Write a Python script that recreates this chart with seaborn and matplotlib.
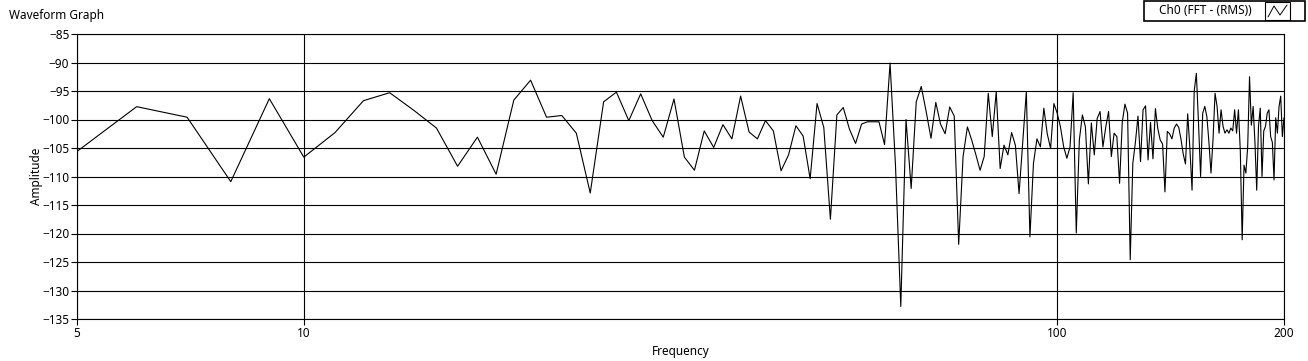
import numpy as np
import pandas as pd
import matplotlib
matplotlib.use("Agg")
import matplotlib.pyplot as plt
from matplotlib.ticker import NullLocator, FixedLocator, FixedFormatter
from matplotlib.patches import Rectangle
from matplotlib.lines import Line2D
import seaborn as sns

# ---------------- data ----------------
freq = list(range(5, 201))
amplitude = [
    -105.6, -97.75, -99.6, -110.9, -96.35, -106.6, -102.3, -96.7, -95.3, -98.4,   # 5-14
    -101.5, -108.2, -103.1, -109.6, -96.6, -93.1, -99.6, -99.3, -102.4, -112.9,   # 15-24
    -96.9, -95.2, -100.2, -95.5, -100.2, -103.1, -96.4, -106.6, -108.9, -102.0,   # 25-34
    -104.9, -100.9, -103.4, -95.9, -102.2, -103.4, -100.2, -102.0, -109.0, -106.2, # 35-44
    -101.1, -102.9, -110.4, -97.2, -101.4, -117.5, -99.2, -97.9, -101.7, -104.2,  # 45-54
    -100.8, -100.4, -100.4, -100.4, -104.4, -90.1, -108.0, -132.8, -100.0, -112.1, # 55-64
    -96.9, -94.2, -98.6, -103.3, -97.0, -100.8, -102.5, -97.8, -99.4, -121.9,     # 65-74
    -106.5, -101.3, -103.6, -106.2, -108.9, -106.5, -95.4, -103.0, -95.1, -108.6, # 75-84
    -104.5, -106.2, -102.3, -104.5, -113.0, -104.0, -95.1, -120.6, -107.7, -103.4, # 85-94
    -104.8, -98.0, -102.5, -105.1, -97.2, -98.9, -101.3, -104.8, -106.8, -104.8,  # 95-104
    -95.3, -119.9, -103.6, -99.2, -101.3, -111.3, -100.6, -106.2, -99.8, -98.6,   # 105-114
    -104.8, -101.3, -98.6, -106.5, -102.4, -103.0, -111.2, -100.5, -97.3, -98.9,  # 115-124
    -124.6, -107.7, -104.0, -99.4, -107.4, -98.3, -97.6, -107.1, -100.5, -106.9,  # 125-134
    -98.1, -101.6, -103.6, -104.3, -112.7, -102.1, -102.5, -103.4, -101.5, -100.8, # 135-144
    -101.4, -103.5, -106.1, -107.8, -99.0, -105.0, -112.4, -95.0, -91.9, -100.5,  # 145-154
    -110.0, -98.9, -97.7, -99.5, -104.0, -109.4, -103.5, -95.4, -97.7, -102.4,    # 155-164
    -98.3, -101.2, -102.4, -101.8, -102.4, -101.5, -102.0, -98.3, -102.4, -98.3,  # 165-174
    -105.5, -121.1, -108.0, -109.4, -104.7, -92.5, -101.0, -97.7, -104.0, -112.4, # 175-184
    -101.2, -98.0, -110.0, -102.0, -101.2, -98.9, -98.3, -103.0, -104.0, -110.6,  # 185-194
    -99.7, -102.4, -97.7, -95.9, -103.0, -99.7,                                   # 195-200
]
series_name = "Ch0 (FFT - (RMS))"
x_ticks = [5, 10, 100, 200]
x_tick_labels = ["5", "10", "100", "200"]
y_ticks = list(range(-135, -84, 5))

# ---------------- style ----------------
sns.set_theme(style="white")
plt.rcParams["font.family"] = ["Noto Sans", "DejaVu Sans"]
plt.rcParams["font.size"] = 8.5

W, H = 1308, 361
fig = plt.figure(figsize=(W / 100, H / 100), dpi=100)
fig.patch.set_facecolor("white")

L, R, T, B = 77, 1284, 34, 319
ax = fig.add_axes([L / W, 1 - B / H, (R - L) / W, (B - T) / H])
ax.set_facecolor("white")

df = pd.DataFrame({"Frequency": freq, "Amplitude": amplitude})
sns.lineplot(data=df, x="Frequency", y="Amplitude", ax=ax, color="black",
             linewidth=0.8, estimator=None, legend=False, zorder=3)

ax.set_xscale("log")
ax.set_xlim(5, 200)
ax.set_ylim(-135, -85)
ax.xaxis.set_major_locator(FixedLocator(x_ticks))
ax.xaxis.set_major_formatter(FixedFormatter(x_tick_labels))
ax.xaxis.set_minor_locator(NullLocator())
ax.yaxis.set_major_locator(FixedLocator(y_ticks))
ax.yaxis.set_minor_locator(NullLocator())

ax.set_axisbelow(True)
ax.grid(True, which="major", color="black", linewidth=0.8)
for s in ax.spines.values():
    s.set_color("black")
    s.set_linewidth(0.8)

ax.tick_params(axis="both", which="major", direction="out", length=4, width=0.8,
               color="black", labelcolor="black", labelsize=8.5, pad=1.5,
               left=True, bottom=True)

ax.set_xlabel("Frequency", fontsize=8.5, color="black", labelpad=4)
ax.set_ylabel("Amplitude", fontsize=8.5, color="black")
ax.yaxis.set_label_coords((43 - L) / (R - L), 0.5)

# title
fig.text(9 / W, 1 - 15 / H, "Waveform Graph", fontsize=8.5, color="black",
         ha="left", va="center")

# legend box (LabVIEW plot legend style)
def fx(px):
    return px / W

def fy(py):
    return 1 - py / H

fig.patches.append(Rectangle((fx(1144), fy(21)), fx(1305) - fx(1144), fy(1) - fy(21),
                             transform=fig.transFigure, fill=False, edgecolor="black",
                             linewidth=1.2))
fig.text(fx(1205), fy(11), series_name, fontsize=8.5, color="black",
         ha="center", va="center")
fig.patches.append(Rectangle((fx(1265), fy(20)), fx(1290) - fx(1265), fy(2) - fy(20),
                             transform=fig.transFigure, fill=False, edgecolor="black",
                             linewidth=0.8))
icon_x = [1268, 1274, 1280, 1287]
icon_y = [17, 6, 15, 5]
fig.lines.append(Line2D([fx(v) for v in icon_x], [fy(v) for v in icon_y],
                        transform=fig.transFigure, color="black", linewidth=0.7))

fig.savefig("out.png", dpi=100, facecolor="white")
